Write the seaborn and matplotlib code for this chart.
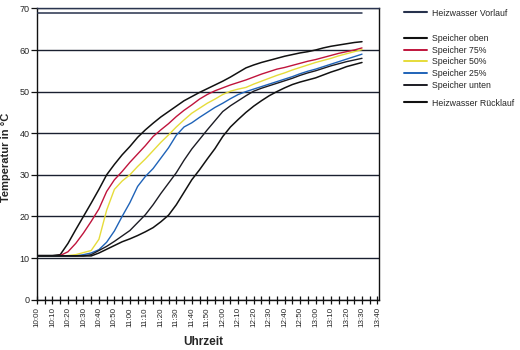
import matplotlib
matplotlib.use("Agg")
import matplotlib.pyplot as plt
from matplotlib.lines import Line2D
from matplotlib.ticker import MultipleLocator
import seaborn as sns

# Sampling times in minutes after 10:00
minutes = list(range(0, 215, 5))

heizwasser_vorlauf = [69.0, 69.0, 69.0, 69.0, 69.0, 69.0, 69.0, 69.0, 69.0, 69.0,
                      69.0, 69.0, 69.0, 69.0, 69.0, 69.0, 69.0, 69.0, 69.0, 69.0,
                      69.0, 69.0, 69.0, 69.0, 69.0, 69.0, 69.0, 69.0, 69.0, 69.0,
                      69.0, 69.0, 69.0, 69.0, 69.0, 69.0, 69.0, 69.0, 69.0, 69.0,
                      69.0, 69.0, 69.0]
speicher_oben = [10.6, 10.6, 10.6, 10.8, 13.5, 16.8, 20.0, 23.2, 26.5, 30.0,
                 32.5, 34.8, 36.8, 39.0, 40.8, 42.4, 43.9, 45.2, 46.5, 47.8,
                 48.8, 49.8, 50.7, 51.6, 52.5, 53.5, 54.6, 55.7, 56.4, 57.0,
                 57.5, 58.0, 58.5, 58.9, 59.3, 59.6, 60.0, 60.5, 60.9, 61.2,
                 61.5, 61.8, 62.0]
speicher_75 = [10.5, 10.5, 10.5, 10.6, 11.5, 13.5, 16.0, 18.8, 21.8, 26.0,
               28.8, 30.8, 33.0, 35.0, 37.0, 39.2, 40.8, 42.3, 44.0, 45.5,
               46.8, 48.2, 49.3, 50.2, 50.9, 51.6, 52.2, 52.8, 53.5, 54.2,
               54.8, 55.4, 55.8, 56.3, 56.8, 57.3, 57.7, 58.2, 58.7, 59.2,
               59.6, 60.0, 60.5]
speicher_50 = [10.5, 10.5, 10.5, 10.5, 10.6, 10.8, 11.3, 11.8, 14.5, 21.5,
               26.5, 28.5, 30.0, 32.0, 33.8, 35.8, 37.8, 39.6, 41.5, 43.2,
               44.8, 46.0, 47.2, 48.2, 49.3, 50.1, 50.6, 51.0, 51.8, 52.5,
               53.2, 53.9, 54.5, 55.2, 55.8, 56.4, 57.0, 57.5, 58.0, 58.6,
               59.1, 59.6, 60.1]
speicher_25 = [10.5, 10.5, 10.5, 10.5, 10.5, 10.5, 10.8, 11.2, 12.0, 13.8,
               16.5, 20.0, 23.3, 27.2, 29.6, 31.5, 34.0, 36.5, 39.5, 41.5,
               42.5, 43.8, 45.0, 46.2, 47.2, 48.3, 49.3, 50.0, 50.6, 51.2,
               51.8, 52.4, 53.0, 53.6, 54.3, 54.9, 55.4, 56.0, 56.6, 57.2,
               57.8, 58.4, 59.0]
speicher_unten = [10.5, 10.5, 10.5, 10.5, 10.5, 10.5, 10.5, 10.8, 11.8, 12.8,
                  14.0, 15.3, 16.6, 18.5, 20.4, 22.8, 25.5, 28.0, 30.5, 33.5,
                  36.2, 38.5, 40.8, 43.0, 45.2, 46.6, 47.8, 49.0, 50.1, 50.8,
                  51.4, 52.0, 52.6, 53.2, 53.9, 54.5, 55.0, 55.6, 56.2, 56.7,
                  57.2, 57.6, 58.0]
heizwasser_ruecklauf = [10.5, 10.5, 10.5, 10.5, 10.5, 10.5, 10.5, 10.5, 11.2, 12.1,
                        13.0, 13.9, 14.6, 15.4, 16.3, 17.3, 18.7, 20.3, 22.8, 25.8,
                        28.8, 31.2, 33.8, 36.3, 39.2, 41.5, 43.3, 45.0, 46.5, 47.8,
                        49.0, 50.0, 50.9, 51.7, 52.3, 52.8, 53.3, 54.0, 54.7, 55.3,
                        56.0, 56.5, 57.0]

tick_labels = ["10:00", "10:10", "10:20", "10:30", "10:40", "10:50",
               "11:00", "11:10", "11:20", "11:30", "11:40", "11:50",
               "12:00", "12:10", "12:20", "12:30", "12:40", "12:50",
               "13:00", "13:10", "13:20", "13:30", "13:40"]

series = [
    ("Heizwasser Vorlauf", heizwasser_vorlauf, "#27324d", 1.1),
    ("Speicher oben", speicher_oben, "#111111", 1.1),
    ("Speicher 75%", speicher_75, "#c0143c", 1.0),
    ("Speicher 50%", speicher_50, "#e6dc3a", 1.0),
    ("Speicher 25%", speicher_25, "#1f63b8", 1.0),
    ("Speicher unten", speicher_unten, "#1c1c24", 1.0),
    ("Heizwasser Rücklauf", heizwasser_ruecklauf, "#111111", 1.1),
]

sns.set_theme(style="white")
plt.rcParams["font.family"] = ["Liberation Sans", "DejaVu Sans"]

fig = plt.figure(figsize=(5.2, 3.5), dpi=100)
ax = fig.add_axes([0.0712, 0.144, 0.6577, 0.832])

for name, values, color, lw in series:
    sns.lineplot(x=minutes, y=values, color=color, linewidth=lw, ax=ax, zorder=3)

ax.set_xlim(0, 221)
ax.set_ylim(0, 70)
ax.set_yticks(range(0, 71, 10))
ax.set_xticks(range(0, 221, 10))
ax.set_xticklabels(tick_labels, rotation=90)
ax.xaxis.set_minor_locator(MultipleLocator(5))

grid_color = "#1a2030"
ax.set_axisbelow(True)
ax.grid(axis="y", color=grid_color, linewidth=1.0)
ax.grid(axis="x", visible=False)

for side in ("left", "right", "bottom"):
    ax.spines[side].set_visible(True)
    ax.spines[side].set_color("#111111")
    ax.spines[side].set_linewidth(1.0)
ax.spines["top"].set_color("#2a3550")
ax.spines["top"].set_linewidth(1.0)

ax.tick_params(axis="x", which="both", direction="inout", length=6, width=0.9,
               color="#111111", bottom=True, labelsize=5.8, pad=2.5)
ax.tick_params(axis="y", direction="out", length=4, width=0.9, color="#111111",
               left=True, labelsize=6.5, pad=1.5)

ax.set_xlabel("Uhrzeit", fontsize=8.5, fontweight="bold")
ax.set_ylabel("Temperatur in °C", fontsize=8, fontweight="bold")
ax.xaxis.set_label_coords(0.485, -0.125)
ax.yaxis.set_label_coords(-0.076, 0.49)

handles = [Line2D([], [], color=c, linewidth=lw + 0.4) for _, _, c, lw in series]
labels = [n for n, _, _, _ in series]

legend_kw = dict(frameon=False, fontsize=6.3, handlelength=2.6, handletextpad=0.55,
                 borderpad=0, borderaxespad=0, loc="center left")

leg1 = fig.legend(handles[:1], labels[:1], bbox_to_anchor=(404 / 520, 1 - 13 / 350), **legend_kw)
leg2 = fig.legend(handles[1:6], labels[1:6], bbox_to_anchor=(404 / 520, 1 - 62 / 350),
                  labelspacing=0.3, **legend_kw)
leg3 = fig.legend(handles[6:], labels[6:], bbox_to_anchor=(404 / 520, 1 - 103 / 350), **legend_kw)

fig.savefig("out.png", dpi=100, facecolor="white")
